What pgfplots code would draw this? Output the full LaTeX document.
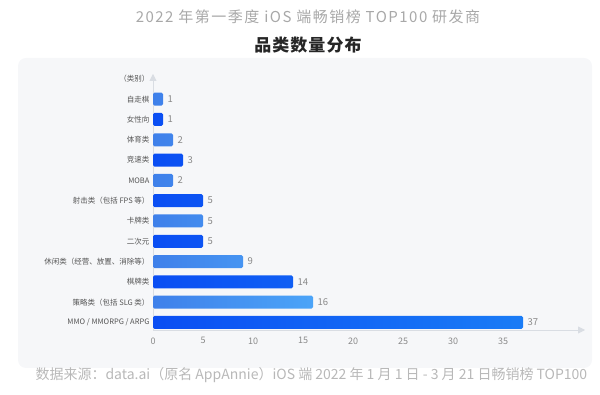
\documentclass[border=0pt]{standalone}
\usepackage{pgfplots}
\pgfplotsset{compat=1.18}
\usepackage{fontspec}
\setmainfont{Noto Sans CJK SC}
\usetikzlibrary{arrows.meta}
\definecolor{cardbg}{HTML}{F6F7F9}
\definecolor{axisgray}{HTML}{D9DDE3}
\definecolor{labelgray}{HTML}{555555}
\definecolor{numgray}{HTML}{8A8A8A}
\definecolor{titlegray}{HTML}{A8A8A8}
\definecolor{footgray}{HTML}{B8B8B8}
\definecolor{darkA}{HTML}{0A4EF3}
\definecolor{darkB}{HTML}{1A7CF6}
\definecolor{lightA}{HTML}{3F80EA}
\definecolor{lightB}{HTML}{4BA4F8}
\begin{document}
\begin{tikzpicture}[x=1pt,y=1pt]
\path[use as bounding box] (0pt,0pt) rectangle (600pt,395pt);
\fill[cardbg, rounded corners=8pt] (18pt,27pt) rectangle (592pt,337pt);
\node[text=titlegray, font=\fontsize{15}{17}\selectfont\addfontfeature{LetterSpace=10}] at (308pt,378pt) {2022 年第一季度 iOS 端畅销榜 TOP100 研发商};
\node[text=black!85, font=\fontsize{17}{19}\selectfont\bfseries\addfontfeature{LetterSpace=6}] at (308pt,350pt) {品类数量分布};
\node[text=footgray, font=\fontsize{14}{16}\selectfont, anchor=west] at (32pt,20pt) {数据来源：data.ai（原名 AppAnnie）iOS 端 2022 年 1 月 1 日 - 3 月 21 日畅销榜 TOP100};
\begin{axis}[
  at={(153pt,65pt)}, anchor=south west,
  scale only axis, width=432pt, height=256pt,
  xbar, bar width=13pt, bar shift=0pt,
  xmin=0, xmax=43.2, ymin=-0.37, ymax=12.24,
  axis lines=left,
  axis line style={draw=axisgray, line width=0.8pt, -{Triangle[length=7pt,width=7pt]}},
  xtick={0,5,...,35}, ytick={0,...,12},
  yticklabels={MMO / MMORPG / ARPG, 策略类（包括 SLG 类）, 棋牌类, 休闲类（经营、放置、消除等）, 二次元, 卡牌类, 射击类（包括 FPS 等）, MOBA, 竞速类, 体育类, 女性向, 自走棋, （类别）},
  major tick length=0pt,
  /pgf/number format/assume math mode=true,
  y tick label style={font=\fontsize{7.5}{9}\selectfont, text=labelgray},
  x tick label style={font=\fontsize{9}{10}\selectfont, text=numgray, yshift=-4pt},
  nodes near coords,
  nodes near coords style={font=\fontsize{9.5}{10}\selectfont, text=numgray, anchor=west, xshift=1pt},
  point meta=x,
]
\addplot[draw=none, left color=lightA, right color=lightB, rounded corners=1.5pt] coordinates {(1,11) (2,9) (2,7) (5,5) (9,3) (16,1)};
\addplot[draw=none, left color=darkA, right color=darkB, rounded corners=1.5pt] coordinates {(1,10) (3,8) (5,6) (5,4) (14,2) (37,0)};
\end{axis}
\end{tikzpicture}
\end{document}
